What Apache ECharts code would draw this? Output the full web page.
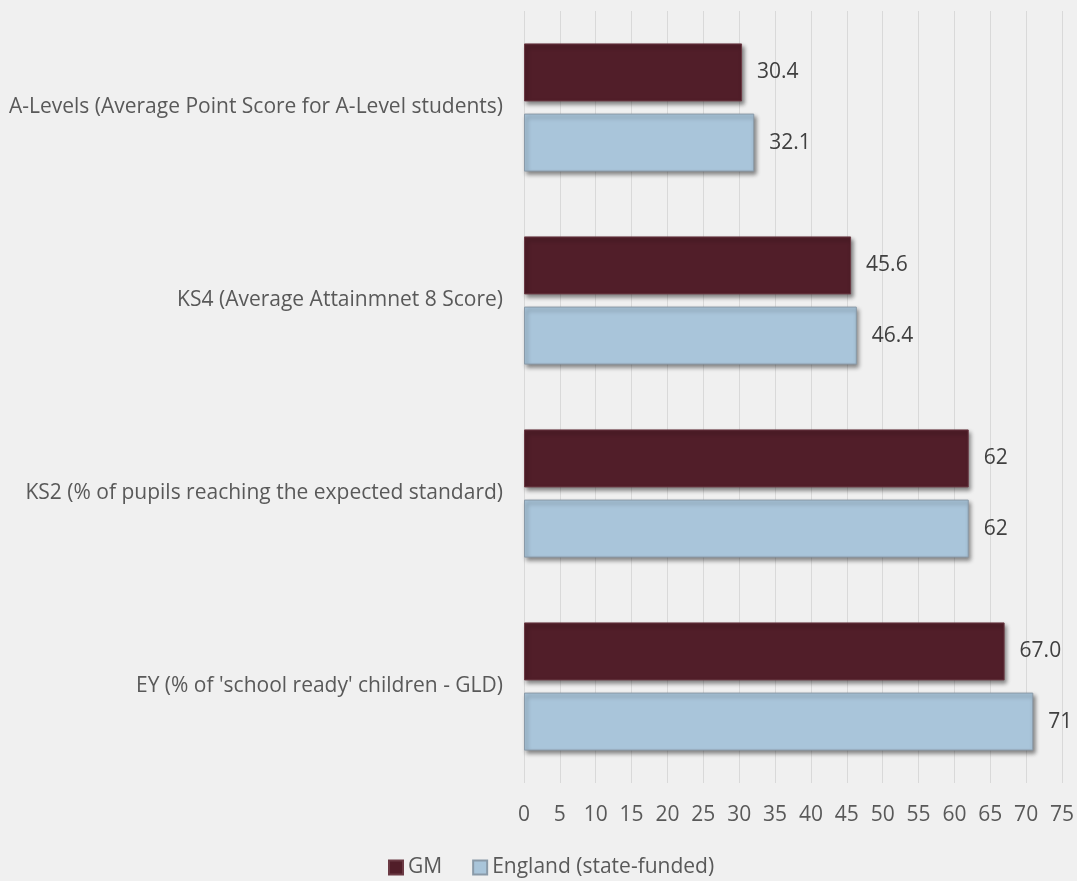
<!DOCTYPE html>
<html>
<head>
<meta charset="utf-8">
<script src="https://cdn.jsdelivr.net/npm/echarts@6/dist/echarts.min.js"></script>
<style>
  html, body { margin: 0; padding: 0; background: #F0F0F0; }
  #chart { width: 1077px; height: 881px; }
</style>
</head>
<body>
<div id="chart"></div>
<script>
// Categories, listed top to bottom
const categories = [
  'A-Levels (Average Point Score for A-Level students)',
  'KS4 (Average Attainmnet 8 Score)',
  'KS2 (% of pupils reaching the expected standard)',
  "EY (% of 'school ready' children - GLD)"
];
const seriesNames = ['GM', 'England (state-funded)'];
const gmValues = [30.4, 45.6, 62, 67.0];
const englandValues = [32.1, 46.4, 62, 71];
// Decimal places shown in each value label
const gmDecimals = [1, 1, 0, 1];
const englandDecimals = [1, 1, 0, 0];
const xTicks = { min: 0, max: 75, interval: 5 };

const textColor = '#595959';
const fontFamily = '"Open Sans", "Noto Sans", sans-serif';
const fontSize = 21;

function labelFor(decimals) {
  return p => p.value.toFixed(decimals[p.dataIndex]);
}

const barShadow = {
  shadowColor: 'rgba(0,0,0,0.45)',
  shadowBlur: 4,
  shadowOffsetX: 2,
  shadowOffsetY: 3
};

function valueLabel(decimals) {
  return {
    show: true,
    position: 'right',
    distance: 15,
    color: '#404040',
    fontSize: fontSize,
    fontFamily: fontFamily,
    formatter: labelFor(decimals)
  };
}

const chart = echarts.init(document.getElementById('chart'));
chart.setOption({
  backgroundColor: '#F0F0F0',
  animation: false,
  textStyle: { fontFamily: fontFamily },
  grid: { left: 524, right: 13, top: 11, bottom: 98, containLabel: false },
  legend: {
    top: 857,
    left: 388,
    padding: 0,
    icon: 'rect',
    itemWidth: 14,
    itemHeight: 14,
    itemGap: 30,
    itemStyle: { shadowBlur: 0, shadowOffsetX: 0, shadowOffsetY: 0 },
    textStyle: { color: textColor, fontSize: fontSize, fontFamily: fontFamily },
    data: seriesNames
  },
  xAxis: {
    type: 'value',
    min: xTicks.min,
    max: xTicks.max,
    interval: xTicks.interval,
    axisLine: { show: false },
    axisTick: { show: false },
    splitLine: { show: true, lineStyle: { color: '#D9D9D9', width: 1 } },
    axisLabel: { color: textColor, fontSize: fontSize, margin: 22, fontFamily: fontFamily }
  },
  yAxis: {
    type: 'category',
    inverse: true,
    data: categories,
    axisLine: { show: false },
    axisTick: { show: false },
    axisLabel: { color: textColor, fontSize: fontSize, margin: 21, fontFamily: fontFamily }
  },
  series: [
    {
      name: seriesNames[0],
      type: 'bar',
      data: gmValues,
      barWidth: 58,
      barGap: '21%',
      itemStyle: Object.assign({ color: '#511E29', borderColor: '#6B3A44', borderWidth: 1 }, barShadow),
      label: valueLabel(gmDecimals)
    },
    {
      name: seriesNames[1],
      type: 'bar',
      data: englandValues,
      barWidth: 58,
      barGap: '21%',
      itemStyle: Object.assign({ color: '#A9C5DA', borderColor: '#8A9AA8', borderWidth: 1 }, barShadow),
      label: valueLabel(englandDecimals)
    }
  ]
});
</script>
</body>
</html>
